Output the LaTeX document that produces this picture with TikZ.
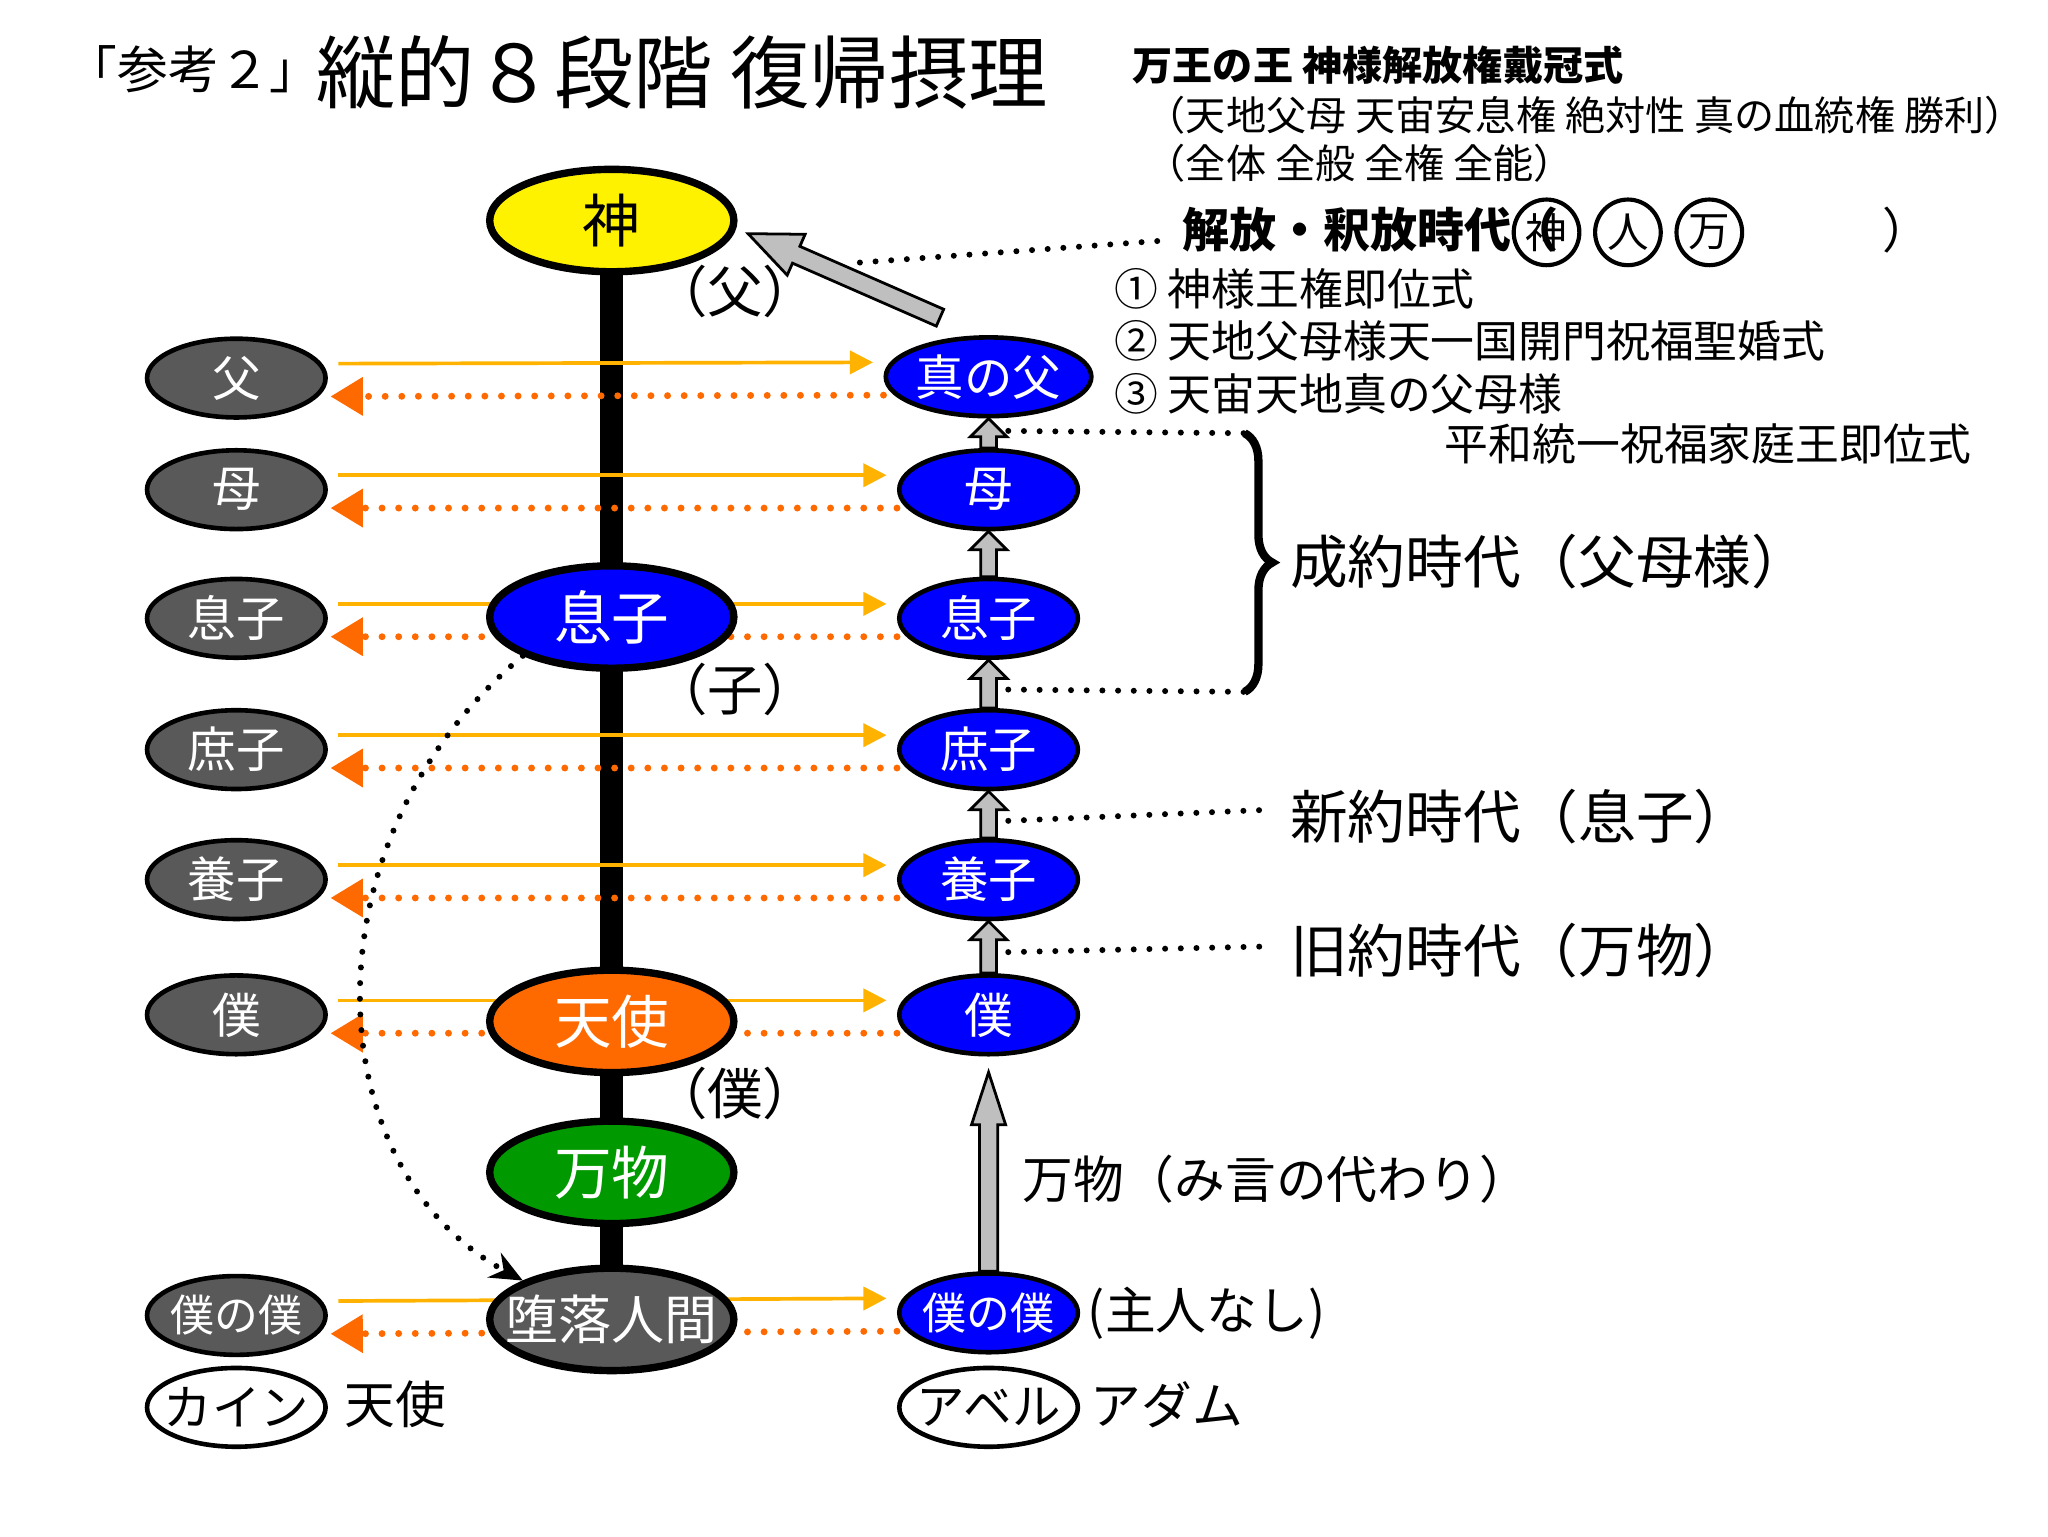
\documentclass[tikz,border=0pt]{standalone}
\usepackage{fontspec}
\setmainfont{Noto Sans CJK JP}
\usetikzlibrary{shapes.geometric,arrows.meta,calc,decorations.pathreplacing}
\newcommand{\fs}[1]{\fontsize{#1}{#1}\selectfont}
\newcommand{\garr}[5]{%
  \path (#1) coordinate (gA) (#2) coordinate (gB);
  \path ($(gB)!#5!(gA)$) coordinate (gH);
  \filldraw[fill=gray!50,draw=black,line width=0.6pt]
    ($(gA)!#3!90:(gB)$) -- ($(gH)!#3!-90:(gA)$) -- ($(gH)!#4!-90:(gA)$) -- (gB)
    -- ($(gH)!#4!90:(gA)$) -- ($(gH)!#3!90:(gA)$) -- ($(gA)!#3!-90:(gB)$) -- cycle;}
\definecolor{dg}{HTML}{595959}
\definecolor{org}{HTML}{FF6A00}
\definecolor{ylw}{HTML}{FFB300}
\tikzset{
  big/.style={ellipse,draw=black,line width=1.6pt,minimum width=1.86cm,minimum height=0.78cm,inner sep=0pt,font=\fs{12.5}},
  sm/.style={ellipse,draw=black,line width=1pt,minimum width=1.36cm,minimum height=0.6cm,inner sep=0pt,font=\fs{10.5}},
  lft/.style={sm,fill=dg,text=white},
  rgt/.style={sm,fill=blue,text=white},
  ya/.style={ylw,line width=0.8pt,-{Triangle[length=5pt,width=5pt]}},
  oa/.style={org,line width=1.5pt,line cap=round,dash pattern=on 0pt off 3.6pt,-{Triangle[length=7pt,width=8pt]}},
  dl/.style={black,line width=1.3pt,line cap=round,dash pattern=on 0pt off 3.4pt},
  lbl/.style={anchor=west,inner sep=0pt},
}
\begin{document}
\begin{tikzpicture}
\useasboundingbox (0,0) rectangle (15.6,-11.7);
% thick spine
\coordinate (top) at (4.66,-1.68);
\coordinate (bot) at (4.66,-10.05);
\draw[line width=5pt] (top) -- (bot);
% left and right nodes
\foreach \n/\t/\y in {f/父/2.88,m/母/3.73,s/息子/4.71,ss/庶子/5.71,ad/養子/6.70,sv/僕/7.73}{
  \node[lft] (l\n) at (1.80,-\y) {\t};}
\node[lft,font=\fs{9.5},inner xsep=-4pt] (lsvsv) at (1.80,-10.02) {僕の僕};
\foreach \n/\t/\y in {f/真の父/2.87,m/母/3.73,s/息子/4.71,ss/庶子/5.71,ad/養子/6.70,sv/僕/7.73}{
  \node[rgt] (r\n) at (7.53,-\y) {\t};}
\node[rgt,font=\fs{9.5},inner xsep=-4pt] (rsvsv) at (7.53,-10.00) {僕の僕};
% horizontal arrows
\foreach \n in {f,m,s,ss,ad,sv,svsv}{
  \draw[ya] ($(l\n.east)+(0.08,0.11)$) -- ($(r\n.west)+(-0.08,0.11)$);
  \draw[oa] ($(r\n.west)+(0,-0.14)$) -- ($(l\n.east)+(0.02,-0.14)$);}
% central nodes
\node[big,fill=yellow] (god) at (4.66,-1.68) {神};
\node[big,fill=blue,text=white] (cson) at (4.66,-4.70) {息子};
\node[big,fill=org,text=white] (angel) at (4.66,-7.78) {天使};
\node[big,fill=green!60!black,text=white] (things) at (4.66,-8.93) {万物};
\node[big,fill=dg,text=white,font=\fs{11.5},inner xsep=-6pt] (fallen) at (4.66,-10.05) {堕落人間};
\node[font=\fs{12}] (pf) at (5.60,-2.22) {（父）};
\node[font=\fs{12}] (pc) at (5.60,-5.25) {（子）};
\node[font=\fs{12}] (pv) at (5.60,-8.33) {（僕）};
% gray block arrows
\garr{rm.north}{rf.south}{0.06cm}{0.14cm}{0.14cm}
\garr{rs.north}{rm.south}{0.06cm}{0.14cm}{0.14cm}
\garr{rss.north}{rs.south}{0.06cm}{0.14cm}{0.14cm}
\garr{rad.north}{rss.south}{0.06cm}{0.14cm}{0.14cm}
\garr{rsv.north}{rad.south}{0.06cm}{0.14cm}{0.14cm}
\garr{rsvsv.north}{$(rsv.south)+(0,-0.12)$}{0.07cm}{0.13cm}{0.4cm}
\coordinate (ga) at (7.16,-2.42);
\garr{ga}{$(god.east)+(0.08,-0.1)$}{0.07cm}{0.17cm}{0.4cm}
% curved dotted arrow
\draw[dl,-{Stealth[length=7pt,width=6pt]}] (cson.south west) .. controls (2.3,-6.4) and (2.4,-8.9) .. (fallen.north west);
% title
\node[lbl,font=\fs{17.2}] (t2) at (2.40,-0.55) {縦的８段階 復帰摂理};
\node[anchor=east,inner sep=0pt,font=\fs{11}] (t1) at ($(t2.west)+(0.05,0.02)$) {「参考２」};
\node[lbl,font=\fs{8.7}\bfseries] (r1) at (8.62,-0.50) {万王の王 神様解放権戴冠式};
\node[lbl,font=\fs{8.7}] (r2) at (8.72,-0.88) {（天地父母 天宙安息権 絶対性 真の血統権 勝利）};
\node[lbl,font=\fs{8.7}] (r3) at (8.72,-1.24) {（全体 全般 全権 全能）};
\node[lbl,font=\fs{10.2}\bfseries] (lib) at (9.00,-1.75) {解放・釈放時代（};
\foreach \i/\t/\x in {1/神/11.78,2/人/12.40,3/万/13.02}{
  \node[circle,draw,line width=0.9pt,minimum size=0.5cm,inner sep=0pt,font=\fs{9}] (c\i) at (\x,-1.77) {\t};}
\node[font=\fs{10.5}] (rp) at (14.52,-1.75) {）};
\coordinate (d0) at (6.55,-2.0);
\draw[dl] (d0) -- ($(lib.west)+(-0.1,-0.08)$);
\node[lbl,font=\fs{9.5}] (n1) at (8.48,-2.20) {① 神様王権即位式};
\node[lbl,font=\fs{9.5}] (n2) at (8.48,-2.60) {② 天地父母様天一国開門祝福聖婚式};
\node[lbl,font=\fs{9.5}] (n3) at (8.48,-3.00) {③ 天宙天地真の父母様};
\node[anchor=east,inner sep=0pt,font=\fs{9.5}] (n4) at (15.02,-3.38) {平和統一祝福家庭王即位式};
% brace
\coordinate (b1) at (9.48,-3.30);
\coordinate (b2) at (9.48,-5.27);
\draw[dl] ($(rm.north)+(0.15,0.13)$) -- (b1);
\draw[dl] ($(rss.north)+(0.15,0.14)$) -- (b2);
\draw[line width=1.8pt,decorate,decoration={brace,amplitude=6pt}] (b1) -- (b2);
\node[lbl,font=\fs{12.5}] (e1) at (9.82,-4.28) {成約時代（父母様）};
\node[lbl,font=\fs{12.5}] (e2) at (9.82,-6.22) {新約時代（息子）};
\node[lbl,font=\fs{12.5}] (e3) at (9.82,-7.24) {旧約時代（万物）};
\draw[dl] ($(rad.north)+(0.15,0.13)$) -- ($(e2.west)+(-0.2,0.05)$);
\draw[dl] ($(rsv.north)+(0.15,0.16)$) -- ($(e3.west)+(-0.2,0.03)$);
\node[lbl,font=\fs{11}] (w) at (7.78,-8.98) {万物（み言の代わり）};
\node[lbl,font=\fs{11}] (nm) at (8.28,-10.00) {(主人なし)};
% bottom
\node[sm,fill=white,inner xsep=-3pt] (cain) at (1.80,-10.72) {カイン};
\node[lbl,font=\fs{11}] (ca) at (2.62,-10.70) {天使};
\node[sm,fill=white,inner xsep=-3pt] (abel) at (7.53,-10.72) {アベル};
\node[lbl,font=\fs{11}] (ad) at (8.30,-10.70) {アダム};
\end{tikzpicture}
\end{document}
